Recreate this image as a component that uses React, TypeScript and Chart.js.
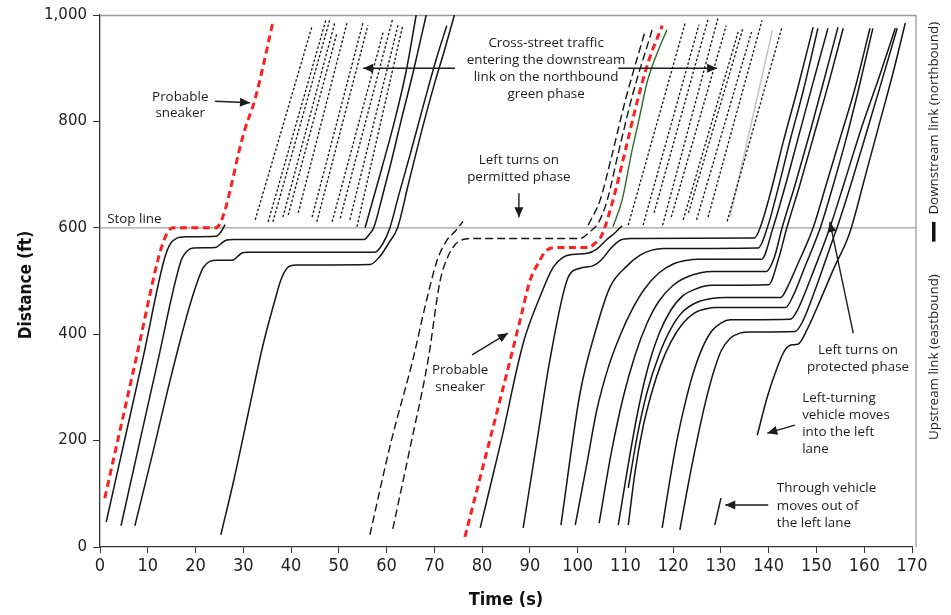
import React, { useEffect, useRef } from 'react';
import { Chart, registerables } from 'chart.js';

Chart.register(...registerables);

type Pt = [number, number];

// ---- axes ----
const timeMax = 170;
const timeStep = 10;
const distMax = 1000;
const distStep = 200;
const stopLineDist = 600;

// ---- cycle 1 : eastbound queue (upstream) ----
const sneakerCycle1: Pt[] = [[1, 92], [4, 212], [8, 372], [12.1, 539], [13.2, 572], [14.2, 592], [15.2, 600], [24.2, 600], [25, 606], [26, 628], [27.5, 680], [29, 740], [30.3, 784], [32.4, 840], [34.3, 910], [36.2, 987]];
const queue1A: Pt[] = [[1.3, 47], [5, 195], [9, 355], [13.4, 539], [14.6, 568], [16, 580], [18, 583], [24.3, 584], [25.3, 592], [26.2, 606]];
const queue1B: Pt[] = [[4.4, 40], [8, 185], [12, 345], [17, 539], [18.2, 556], [19.5, 562], [24.2, 563], [25.3, 570], [26.5, 577], [28, 578], [55.3, 578], [56.4, 588], [57.3, 600], [59, 655], [61, 725], [63, 800], [65.5, 890], [68.3, 1000]];
const queue1C: Pt[] = [[7.3, 40], [11, 175], [15, 325], [19, 460], [21.6, 525], [23, 537], [24.5, 539], [27.8, 539], [28.8, 546], [29.8, 553], [31, 554], [57.5, 554], [59.2, 570], [60.7, 600], [62.5, 660], [65, 740], [68, 840], [70.5, 920], [72.6, 980]];
const queue1D: Pt[] = [[25.3, 23], [28, 125], [31, 250], [34, 375], [36.5, 460], [38, 505], [39.5, 527], [41, 530], [56.5, 531], [58.5, 545], [60.5, 572], [62.3, 600], [64.5, 680], [67, 770], [70, 870], [72, 930], [74.2, 1000]];
const departure1: Pt[] = [[55.5, 600], [57, 648], [59, 712], [61.5, 795], [64, 890], [66.2, 1000]];

// ---- cross-street vehicles entering the downstream link ----
const crossStreet1: Pt[][] = [
  [[32.5, 615], [44.4, 979]],
  [[35.2, 611], [47.3, 991]],
  [[36.2, 611], [48.2, 994]],
  [[38.3, 620], [49.2, 987]],
  [[39.4, 624], [49.6, 966]],
  [[41.5, 628], [51.7, 985]],
  [[44.4, 620], [55.1, 987]],
  [[45.4, 611], [56.1, 981]],
  [[48.6, 611], [59.3, 968]],
  [[50.3, 618], [61.3, 994]],
  [[52.3, 615], [62.4, 981]],
  [[53.8, 602], [63.4, 981]],
];
const crossStreet2: Pt[][] = [
  [[110.6, 605], [122.5, 985]],
  [[113.7, 605], [125.4, 982]],
  [[116, 628], [127.3, 992]],
  [[117.8, 605], [129.4, 995]],
  [[119.6, 620], [131.1, 980]],
  [[122.1, 615], [133.6, 968]],
  [[123.2, 628], [134.6, 975]],
  [[124.9, 615], [136.4, 968]],
  [[127.3, 620], [138.6, 990]],
  [[131.3, 612], [142.8, 978]],
];
const faintTrace: Pt[] = [[131.9, 620], [140.8, 972]];

// ---- left turns on the permitted phase ----
const permittedL1: Pt[] = [[56.5, 23], [61, 200], [65.5, 352], [68, 450], [70.6, 539], [72.5, 575], [74.5, 595], [76, 612]];
const permittedL2: Pt[] = [[61.3, 34], [65, 190], [68.7, 352], [71.2, 500], [72.8, 545], [74.5, 570], [76.5, 579], [78, 580], [100.5, 580], [102.5, 592], [104.5, 612], [106.2, 652], [108.5, 740], [111.5, 850], [115.6, 972]];
const permittedL3: Pt[] = [[102.2, 605], [104.7, 652], [107, 730], [110, 840], [114.1, 969]];

// ---- cycle 2 ----
const sneakerCycle2: Pt[] = [[76.4, 19], [80, 145], [84, 285], [88, 428], [90, 500], [92.1, 539], [93.2, 555], [94.5, 562], [96, 563], [102.4, 563], [103.5, 570], [104.7, 580], [105.5, 596], [107.4, 652], [110, 746], [112.4, 835], [114.8, 912], [117.7, 980]];
const throughGreen: Pt[] = [[107.4, 602], [109.3, 652], [111.4, 746], [113, 810], [114.5, 872], [116.5, 925], [118.7, 972]];
const queue2A: Pt[] = [[79.6, 36], [84, 200], [88.6, 383], [92.1, 470], [94.9, 526], [97, 545], [99, 550], [102, 552], [104, 560], [106, 577], [108, 592], [109.3, 604]];
const queue2B: Pt[] = [[88.6, 36], [91.5, 200], [94.2, 352], [97.8, 502], [100.5, 524], [103, 528], [105, 540], [107, 562], [109, 577], [111, 580], [137, 581], [138.2, 600], [140.5, 670], [143, 760], [146, 860], [149.3, 977]];
const queue2C: Pt[] = [[96.5, 41], [100.5, 289], [104, 414], [106.8, 489], [110.3, 528], [113, 548], [115.5, 558], [118, 561], [137.8, 562], [139.7, 600], [142, 675], [144.5, 765], [147.3, 860], [150.3, 975]];
const queue2D: Pt[] = [[99.5, 41], [102, 160], [104, 257], [106.5, 340], [109, 400], [111.5, 448], [114, 485], [117, 515], [120, 532], [123, 539], [125, 541], [138.5, 541], [140.9, 600], [143.5, 680], [146.2, 770], [149.2, 870], [152.4, 975]];
const queue2E: Pt[] = [[104.5, 45], [107, 175], [109.5, 280], [112, 360], [114.5, 420], [117, 462], [120, 492], [123, 508], [126, 516], [128, 518], [139.5, 518], [141.2, 545], [142.8, 600], [145.5, 680], [148.5, 775], [151.5, 875], [154.5, 977]];
const queue2F: Pt[] = [[108.5, 41], [110.5, 150], [112.5, 250], [114.5, 330], [117, 400], [119.5, 445], [122, 472], [125, 486], [128, 492], [140, 493], [142, 540], [143.8, 600], [146.5, 680], [149.5, 775], [152.5, 870], [155.6, 975]];
const queue2G: Pt[] = [[110.6, 111], [112.5, 210], [114.5, 290], [117, 360], [119.5, 410], [122, 442], [125, 460], [128, 467], [131, 469], [142.5, 469], [144, 490], [146, 530], [149.3, 600], [152, 680], [155, 770], [158, 860], [161.2, 975]];
const queue2H: Pt[] = [[110.6, 41], [112, 140], [113.7, 226], [115.5, 290], [117.3, 340], [119.5, 385], [122, 420], [124.5, 440], [127, 448], [129, 450], [143.5, 450], [145, 470], [147.5, 525], [150.8, 600], [153.5, 680], [156, 760], [158.8, 860], [161.8, 975]];
const queue2I: Pt[] = [[117.7, 36], [119.2, 120], [120.8, 201], [122.5, 270], [124.2, 327], [126, 372], [128, 405], [130, 421], [132, 427], [144.5, 428], [146, 445], [149, 510], [152.8, 600], [156, 690], [159.5, 790], [163, 880], [166.5, 975]];
const queue2J: Pt[] = [[121.4, 32], [123.2, 120], [125, 201], [126.7, 270], [128.4, 327], [130, 368], [132, 393], [134, 402], [136, 404], [145.5, 405], [147, 422], [150, 490], [153.5, 580], [154.3, 600], [157.5, 690], [160.5, 780], [163.8, 880], [166.9, 975]];
const laneChangeIn: Pt[] = [[137.6, 210], [139.7, 282], [141.8, 338], [143.4, 370], [144.9, 380], [146.1, 381], [148, 408], [150.8, 464], [153.5, 521], [156.4, 577], [157.3, 600], [160.3, 700], [163.3, 800], [166, 890], [168.6, 985]];
const laneChangeOut: Pt[] = [[128.7, 41], [130, 92]];

const solidQueues: Pt[][] = [
  queue1A, queue1B, queue1C, queue1D, departure1,
  queue2A, queue2B, queue2C, queue2D, queue2E, queue2F, queue2G, queue2H, queue2I, queue2J,
  laneChangeIn, laneChangeOut,
];

const toXY = (pts: Pt[]) => pts.map(([x, y]) => ({ x, y }));

const ANNO_FONT = '13.4px "Open Sans", "DejaVu Sans", sans-serif';
const TEXT_COLOR = '#1c1c1c';

function drawArrow(ctx: CanvasRenderingContext2D, x1: number, y1: number, x2: number, y2: number) {
  ctx.beginPath();
  ctx.moveTo(x1, y1);
  ctx.lineTo(x2, y2);
  ctx.stroke();
  const a = Math.atan2(y2 - y1, x2 - x1);
  const L = 10;
  const W = 4.5;
  ctx.beginPath();
  ctx.moveTo(x2, y2);
  ctx.lineTo(x2 - L * Math.cos(a) + W * Math.sin(a), y2 - L * Math.sin(a) - W * Math.cos(a));
  ctx.lineTo(x2 - L * Math.cos(a) - W * Math.sin(a), y2 - L * Math.sin(a) + W * Math.cos(a));
  ctx.closePath();
  ctx.fill();
}

const overlayPlugin = {
  id: 'trajectoryOverlay',
  beforeDatasetsDraw(chart: any) {
    const { ctx, chartArea, scales } = chart;
    const ys = scales.y;
    ctx.save();
    // frame (top, right)
    ctx.strokeStyle = '#9a9a9a';
    ctx.lineWidth = 1.3;
    ctx.beginPath();
    ctx.moveTo(chartArea.left, chartArea.top + 0.5);
    ctx.lineTo(chartArea.right + 4, chartArea.top + 0.5);
    ctx.moveTo(chartArea.right + 4, chartArea.top);
    ctx.lineTo(chartArea.right + 4, chartArea.bottom);
    ctx.stroke();
    // stop line
    const sy = ys.getPixelForValue(stopLineDist);
    ctx.strokeStyle = '#a0a0a0';
    ctx.lineWidth = 1.3;
    ctx.beginPath();
    ctx.moveTo(chartArea.left, sy);
    ctx.lineTo(chartArea.right + 4, sy);
    ctx.stroke();
    ctx.restore();
  },
  afterDraw(chart: any) {
    const { ctx, chartArea, scales } = chart;
    const X = (t: number) => scales.x.getPixelForValue(t);
    const Y = (d: number) => scales.y.getPixelForValue(d);
    ctx.save();
    ctx.fillStyle = TEXT_COLOR;
    ctx.strokeStyle = TEXT_COLOR;
    ctx.lineWidth = 1.4;
    ctx.font = ANNO_FONT;
    ctx.textBaseline = 'middle';

    const lines = (txt: string[], t: number, ds: number[], align: CanvasTextAlign) => {
      ctx.textAlign = align;
      txt.forEach((s, i) => ctx.fillText(s, X(t), Y(ds[i])));
    };

    // stop line label
    lines(['Stop line'], 1.5, [616], 'left');

    // sneaker, cycle 1
    lines(['Probable', 'sneaker'], 16.8, [846, 816], 'center');
    drawArrow(ctx, X(24.1), Y(838), X(31.4), Y(835));

    // cross-street traffic
    lines(['Cross-street traffic', 'entering the downstream', 'link on the northbound', 'green phase'], 93.4, [947, 915, 883, 852], 'center');
    drawArrow(ctx, X(74.3), Y(900), X(55.1), Y(900));
    drawArrow(ctx, X(108.5), Y(900), X(129.2), Y(900));

    // permitted left turns
    lines(['Left turns on', 'permitted phase'], 87.7, [727, 695], 'center');
    drawArrow(ctx, X(87.7), Y(665), X(87.7), Y(620));

    // sneaker, cycle 2
    lines(['Probable', 'sneaker'], 75.4, [333, 301], 'center');
    drawArrow(ctx, X(77.9), Y(361), X(85.4), Y(402));

    // protected left turns
    lines(['Left turns on', 'protected phase'], 158.7, [370, 338], 'center');
    drawArrow(ctx, X(157.7), Y(402), X(152.8), Y(611));

    // lane changes
    lines(['Left-turning', 'vehicle moves', 'into the left', 'lane'], 147, [280, 248, 216, 184], 'left');
    drawArrow(ctx, X(145.5), Y(229), X(139.7), Y(214));
    lines(['Through vehicle', 'moves out of', 'the left lane'], 141.7, [111, 77, 45], 'left');
    drawArrow(ctx, X(139.9), Y(79), X(130.9), Y(79));

    // link labels on the right
    const rx = chartArea.right + 22;
    const vtext = (s: string, d: number) => {
      ctx.save();
      ctx.translate(rx, Y(d));
      ctx.rotate(-Math.PI / 2);
      ctx.textAlign = 'center';
      ctx.fillText(s, 0, 0);
      ctx.restore();
    };
    vtext('Downstream link (northbound)', 806);
    vtext('Upstream link (eastbound)', 357);
    ctx.fillStyle = '#111';
    ctx.fillRect(rx - 2, Y(611), 3.5, Y(574) - Y(611));

    // axis titles
    ctx.fillStyle = '#111';
    ctx.font = 'bold 18px "DejaVu Sans Condensed", "DejaVu Sans", sans-serif';
    ctx.textAlign = 'center';
    ctx.fillText('Time (s)', (chartArea.left + chartArea.right) / 2, 600);
    ctx.save();
    ctx.translate(27, 285);
    ctx.rotate(-Math.PI / 2);
    ctx.font = 'bold 17px "DejaVu Sans Condensed", "DejaVu Sans", sans-serif';
    ctx.fillText('Distance (ft)', 0, 0);
    ctx.restore();
    ctx.restore();
  },
};

export default function App() {
  const canvasRef = useRef<HTMLCanvasElement | null>(null);

  useEffect(() => {
    document.body.style.margin = '0';
    const canvas = canvasRef.current;
    if (!canvas) return;

    const base = { pointRadius: 0, showLine: true, fill: false, cubicInterpolationMode: 'monotone' as const };

    const datasets: any[] = [];
    // red sneakers on top
    [sneakerCycle1, sneakerCycle2].forEach((p) =>
      datasets.push({ ...base, data: toXY(p), borderColor: '#ff1f1f', borderWidth: 3, borderDash: [7, 4.5] })
    );
    solidQueues.forEach((p) =>
      datasets.push({ ...base, data: toXY(p), borderColor: '#151515', borderWidth: 1.5 })
    );
    datasets.push({ ...base, data: toXY(throughGreen), borderColor: '#2f6a2f', borderWidth: 1.4 });
    [permittedL1, permittedL2, permittedL3].forEach((p) =>
      datasets.push({ ...base, data: toXY(p), borderColor: '#151515', borderWidth: 1.4, borderDash: [8, 4] })
    );
    [...crossStreet1, ...crossStreet2].forEach((p) =>
      datasets.push({ ...base, data: toXY(p), borderColor: '#151515', borderWidth: 1.3, borderDash: [2.5, 2] })
    );
    datasets.push({ ...base, data: toXY(faintTrace), borderColor: '#c4c4c4', borderWidth: 1.5 });

    const chart = new Chart(canvas, {
      type: 'scatter',
      data: { datasets },
      options: {
        animation: false,
        responsive: false,
        events: [],
        layout: { padding: { top: 15, right: 39, left: 0, bottom: 0 } },
        plugins: { legend: { display: false }, tooltip: { enabled: false } },
        scales: {
          x: {
            type: 'linear',
            min: 0,
            max: timeMax,
            afterFit: (s: any) => { s.height = 68; },
            ticks: {
              stepSize: timeStep,
              autoSkip: false,
              maxRotation: 0,
              padding: 3,
              color: '#222',
              font: { family: '"Liberation Sans Narrow", "DejaVu Sans Condensed", sans-serif', size: 18 },
            },
            grid: { display: true, drawOnChartArea: false, drawTicks: true, tickLength: 6, color: '#333' },
            border: { display: true, color: '#333', width: 1.3 },
          },
          y: {
            type: 'linear',
            min: 0,
            max: distMax,
            afterFit: (s: any) => { s.width = 100; },
            ticks: {
              stepSize: distStep,
              padding: 6,
              color: '#222',
              font: { family: '"DejaVu Sans", sans-serif', size: 15 },
              callback: (v: any) => Number(v).toLocaleString('en-US'),
            },
            grid: { display: true, drawOnChartArea: false, drawTicks: true, tickLength: 7, color: '#333' },
            border: { display: true, color: '#333', width: 1.3 },
          },
        },
      } as any,
      plugins: [overlayPlugin],
    });

    return () => chart.destroy();
  }, []);

  return (
    <div style={{ width: 951, height: 615, background: '#fff' }}>
      <canvas ref={canvasRef} width={951} height={615} style={{ display: 'block' }} />
    </div>
  );
}
